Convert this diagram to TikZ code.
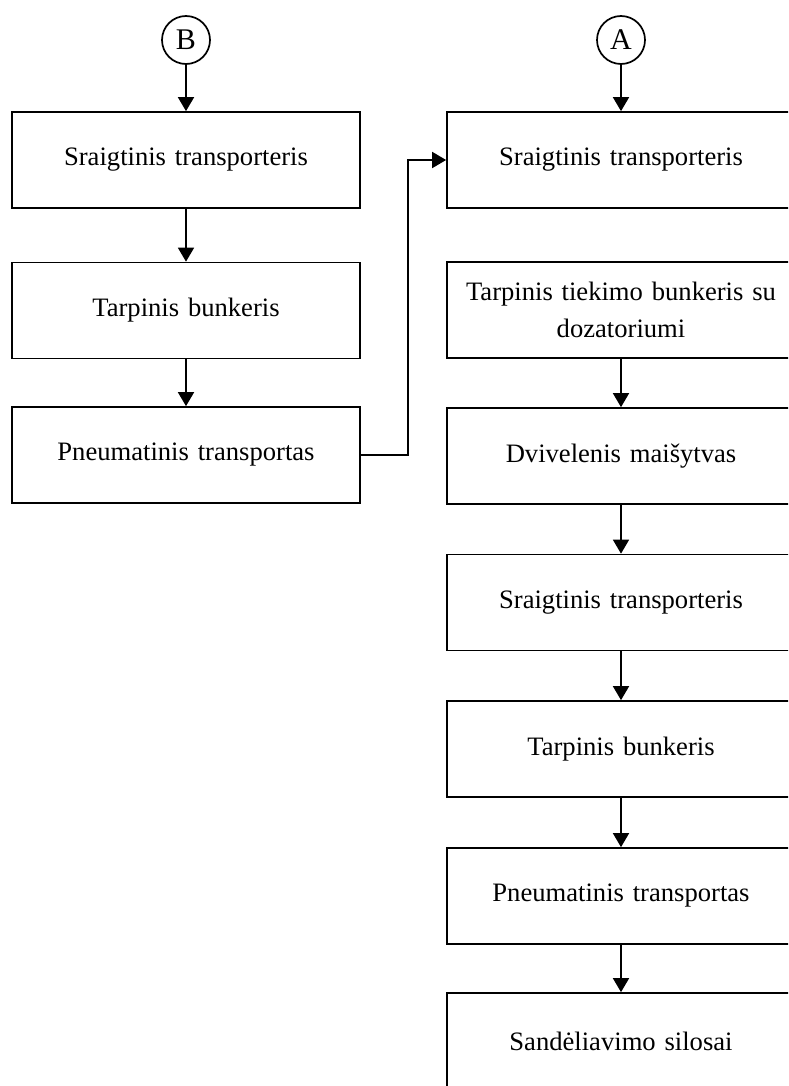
\documentclass[tikz,border=0pt]{standalone}
\usepackage{fontspec}
\setmainfont{Liberation Serif}
\usetikzlibrary{arrows.meta}
\begin{document}
\begin{tikzpicture}[
			x=0.5pt, y=-0.5pt,
			>={Triangle[length=7pt,width=8pt]}, line width=0.85pt,
			blokas/.style={rectangle, draw=black, line width=0.85pt,
				minimum width=174pt, minimum height=48pt,
				inner sep=0pt, align=center, text width=170pt,
				font=\fontsize{13.3}{18.5}\selectfont},
			jungtis/.style={circle, draw=black, line width=0.85pt,
				minimum size=24pt, inner sep=0pt,
				font=\fontsize{15}{16}\selectfont}]
			\def\xL{186}
			\def\xR{621}
			
			%% ribos
			\useasboundingbox (0,0) rectangle (788,1086);
			\clip (0,0) rectangle (788,1086);
			
			%% jungtys
			\node[jungtis] (B) at (\xL,40) {B};
			\node[jungtis] (A) at (\xR,40) {A};
			
			%% kairysis stulpelis
			\node[blokas] (ks1) at (\xL,160) {Sraigtinis transporteris};
			\node[blokas] (ks2) at (\xL,310.5) {Tarpinis bunkeris};
			\node[blokas] (ks3) at (\xL,455) {Pneumatinis transportas};
			
			%% desinysis stulpelis
			\node[blokas] (ds1) at (\xR,160) {Sraigtinis transporteris};
			\node[blokas] (ds2) at (\xR,310) {Tarpinis tiekimo bunkeris su\\dozatoriumi};
			\node[blokas] (ds3) at (\xR,456) {Dvivelenis maišytvas};
			\node[blokas] (ds4) at (\xR,602.5) {Sraigtinis transporteris};
			\node[blokas] (ds5) at (\xR,749) {Tarpinis bunkeris};
			\node[blokas] (ds6) at (\xR,896) {Pneumatinis transportas};
			\node[blokas] (ds7) at (\xR,1041) {Sandėliavimo silosai};
			
			%% rodykles
			\draw[->] (B) -- (ks1);
			\draw[->] (ks1) -- (ks2);
			\draw[->] (ks2) -- (ks3);
			\draw[->] (ks3.east) -- ++(47,0) |- (ds1.west);
			\draw[->] (A) -- (ds1);
			\foreach \i/\j in {2/3, 3/4, 4/5, 5/6, 6/7}
				\draw[->] (ds\i) -- (ds\j);
		\end{tikzpicture}
\end{document}
